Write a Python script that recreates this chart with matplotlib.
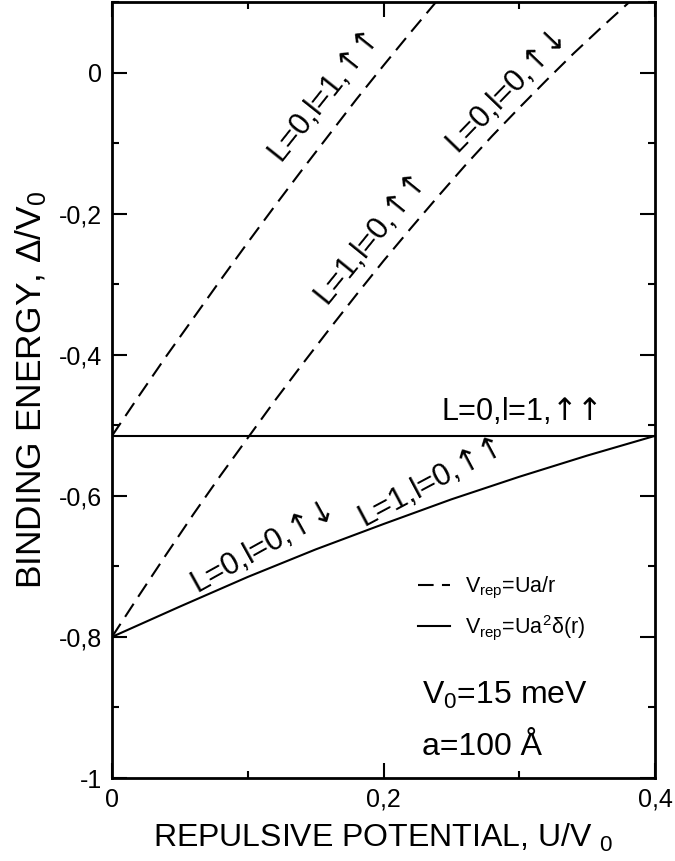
import matplotlib
matplotlib.use('Agg')
import matplotlib.pyplot as plt
from matplotlib.lines import Line2D
from matplotlib.ticker import FuncFormatter, MultipleLocator

plt.rcParams['font.family'] = ['Liberation Sans', 'DejaVu Sans']
plt.rcParams['mathtext.fontset'] = 'custom'
plt.rcParams['mathtext.rm'] = 'Liberation Sans'
plt.rcParams['mathtext.it'] = 'Liberation Sans:italic'
plt.rcParams['mathtext.sf'] = 'DejaVu Sans'
plt.rcParams['mathtext.default'] = 'regular'
plt.rcParams['axes.unicode_minus'] = False

# ---- data ----
# Coulomb-type repulsion V_rep = Ua/r  (dashed)
u_a = [0.00, 0.02, 0.04, 0.06, 0.08, 0.10, 0.12, 0.14, 0.16, 0.18, 0.20, 0.22, 0.24]
e_a = [-0.515, -0.458, -0.402, -0.348, -0.294, -0.241, -0.189, -0.138, -0.088, -0.038, 0.010, 0.057, 0.103]

u_b = [0.00, 0.02, 0.04, 0.06, 0.08, 0.10, 0.12, 0.14, 0.16, 0.18, 0.20, 0.22, 0.24,
       0.26, 0.28, 0.30, 0.32, 0.34, 0.36, 0.38, 0.40]
e_b = [-0.800, -0.741, -0.683, -0.626, -0.571, -0.518, -0.465, -0.414, -0.364, -0.315,
       -0.267, -0.221, -0.176, -0.132, -0.090, -0.050, -0.011, 0.027, 0.063, 0.098, 0.131]

# contact repulsion V_rep = Ua^2 delta(r)  (solid)
u_c = [0.00, 0.05, 0.10, 0.15, 0.20, 0.25, 0.30, 0.35, 0.40]
e_c = [-0.800, -0.757, -0.715, -0.676, -0.640, -0.605, -0.573, -0.543, -0.515]

u_d = [0.00, 0.40]
e_d = [-0.515, -0.515]

x_ticks = [0.0, 0.2, 0.4]
y_ticks = [-1.0, -0.8, -0.6, -0.4, -0.2, 0.0]

UU = r"$\mathsf{↑↑}$"
UD = r"$\mathsf{↑↓}$"
# labels: (text, x, y, rotation)
curve_labels = [
    ("L=0,l=1," + UU, 0.156, -0.036, 51.5),
    ("L=1,l=0," + UU, 0.190, -0.238, 51.0),
    ("L=0,l=0," + UD, 0.290, -0.028, 46.0),
    ("L=0,l=1," + UU, 0.3005, -0.481, 0.0),
    ("L=0,l=0," + UD, 0.110, -0.675, 29.0),
    ("L=1,l=0," + UU, 0.234, -0.583, 28.0),
]

fig = plt.figure(figsize=(6.75, 8.61), dpi=100)
ax = fig.add_axes([112/675, 1-778/861, (655-112)/675, (778-2)/861])

dash = (7.5, 4)
lw = 1.5
ax.plot(u_a, e_a, color='black', lw=lw, dashes=dash)
ax.plot(u_b, e_b, color='black', lw=lw, dashes=dash)
ax.plot(u_c, e_c, color='black', lw=lw)
ax.plot(u_d, e_d, color='black', lw=lw)

ax.set_xlim(0, 0.4)
ax.set_ylim(-1, 0.1)

ax.set_xticks(x_ticks)
ax.set_yticks(y_ticks)
ax.xaxis.set_minor_locator(MultipleLocator(0.1))
ax.yaxis.set_minor_locator(MultipleLocator(0.1))

def fmt(v, p):
    s = '%g' % (round(v, 2) + 0.0)
    return s.replace('.', ',')

ax.xaxis.set_major_formatter(FuncFormatter(fmt))
ax.yaxis.set_major_formatter(FuncFormatter(fmt))

ax.tick_params(which='both', direction='in', top=True, right=True, width=1.5)
ax.tick_params(which='major', length=10.5, labelsize=18, pad=7)
ax.tick_params(which='minor', length=5)
for sp in ax.spines.values():
    sp.set_linewidth(2)

ax.set_xlabel("REPULSIVE POTENTIAL, U/V $_0$", fontsize=23, labelpad=7)
ax.set_ylabel("BINDING ENERGY, Δ/V$_0$", fontsize=25.5, labelpad=7)

for txt, x, y, rot in curve_labels:
    ax.text(x, y, txt, rotation=rot, rotation_mode='anchor', ha='center', va='center',
            fontsize=22)

handles = [Line2D([], [], color='black', lw=lw, dashes=dash),
           Line2D([], [], color='black', lw=lw)]
labels = ["V$_{rep}$=Ua/r", "V$_{rep}$=Ua$^2$δ(r)"]
ax.legend(handles, labels, loc='center left', bbox_to_anchor=((418-112)/543, (778-608)/777),
          frameon=False, fontsize=15.5, handlelength=1.5, handletextpad=0.7,
          borderpad=0, borderaxespad=0, labelspacing=0.55)

ax.text(0.2287, -0.895, "V$_0$=15 meV", fontsize=23, ha='left', va='baseline')
ax.text(0.2287, -0.967, "a=100 Å", fontsize=23, ha='left', va='baseline')

fig.savefig('out.png', dpi=100)
